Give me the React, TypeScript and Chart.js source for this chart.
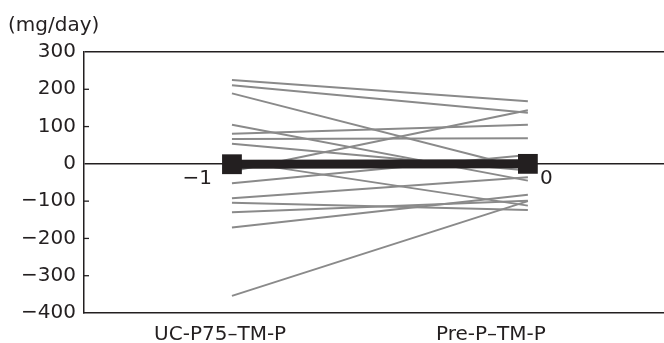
import { useEffect, useRef } from "react";
import { Chart, registerables } from "chart.js";

Chart.register(...registerables);

// ---- data ----
const categories = ["UC-P75–TM-P", "Pre-P–TM-P"];
const yTicks = [-400, -300, -200, -100, 0, 100, 200, 300];
const beforeValues = [225, 211, 189, 105, 81, 67, 54, -20, -52, 8, -92, -104, -130, -171, -354];
const afterValues = [168, 137, -14, -45, 105, 69, -18, 144, 24, -112, -36, -124, -99, -83, -100];
const meanValues = [-1, 0];
const meanLabels = ["−1", "0"];
const unitLabel = "(mg/day)";

const INK = "#231f20";
const GRAY = "#8a8a8a";
const FONT = '"DejaVu Sans", Verdana, sans-serif';
const FS = 20;

const overlay = {
  id: "overlay",
  afterDatasetsDraw(chart: any) {
    const { ctx, scales } = chart;
    const x = scales.x;
    const y = scales.y;
    ctx.save();
    ctx.strokeStyle = INK;
    ctx.lineWidth = 1.3;
    yTicks.forEach((v) => {
      if (v === 300 || v === -400 || v === 0) return;
      const py = y.getPixelForValue(v);
      ctx.beginPath();
      ctx.moveTo(chart.chartArea.left, py);
      ctx.lineTo(chart.chartArea.left + 5, py);
      ctx.stroke();
    });
    ctx.fillStyle = INK;
    ctx.font = FS + "px " + FONT;
    ctx.textBaseline = "middle";
    meanValues.forEach((v, i) => {
      const px = x.getPixelForValue(i);
      const py = y.getPixelForValue(v);
      if (i === 0) {
        ctx.textAlign = "right";
        ctx.fillText(meanLabels[i], px - 20, py + 15);
      } else {
        ctx.textAlign = "left";
        ctx.fillText(meanLabels[i], px + 12, py + 15);
      }
    });
    ctx.restore();
  },
};

export default function App() {
  const ref = useRef<HTMLCanvasElement | null>(null);

  useEffect(() => {
    if (!ref.current) return;
    const pairDatasets = beforeValues.map((b, i) => ({
      data: [
        { x: 0, y: b },
        { x: 1, y: afterValues[i] },
      ],
      borderColor: GRAY,
      borderWidth: 2,
      pointRadius: 0,
      showLine: true,
      fill: false,
    }));
    const meanDataset = {
      data: meanValues.map((v, i) => ({ x: i, y: v })),
      borderColor: INK,
      backgroundColor: INK,
      borderWidth: 9,
      pointStyle: "rect",
      pointRadius: 14,
      pointBorderWidth: 0,
      showLine: true,
      fill: false,
    };
    const chart = new Chart(ref.current, {
      type: "scatter",
      data: { datasets: [meanDataset, ...pairDatasets] as any },
      options: {
        animation: false,
        responsive: false,
        layout: { autoPadding: false, padding: { left: 8, right: 0, top: 0, bottom: 0 } },
        plugins: {
          legend: { display: false },
          tooltip: { enabled: false },
          title: {
            display: true,
            text: unitLabel,
            align: "start",
            color: INK,
            font: { family: FONT, size: FS, weight: "normal" },
            padding: { top: 14, bottom: 14 },
          },
        },
        scales: {
          x: {
            type: "linear",
            min: -0.5,
            max: 1.46,
            afterBuildTicks: (s: any) => {
              s.ticks = [{ value: -0.04 }, { value: 0.875 }];
            },
            afterFit: (s: any) => {
              s.height = 30;
              s.paddingLeft = 0;
              s.paddingRight = 0;
            },
            grid: { display: false, drawTicks: false },
            border: { display: true, color: INK, width: 1.5 },
            ticks: {
              autoSkip: false,
              maxRotation: 0,
              padding: 10,
              color: INK,
              font: { family: FONT, size: FS },
              callback: (_v: any, i: number) => categories[i],
            },
          },
          y: {
            min: -400,
            max: 300,
            afterBuildTicks: (s: any) => {
              s.ticks = yTicks.map((v) => ({ value: v }));
            },
            afterFit: (s: any) => {
              s.width = 76;
              s.paddingTop = 0;
              s.paddingBottom = 0;
            },
            grid: {
              drawTicks: false,
              lineWidth: 1.5,
              color: (c: any) =>
                c.tick && (c.tick.value === 0 || c.tick.value === 300) ? INK : "rgba(0,0,0,0)",
            },
            border: { display: true, color: INK, width: 1.5 },
            ticks: {
              padding: 8,
              color: INK,
              font: { family: FONT, size: FS },
              callback: (v: any) => (Number(v) < 0 ? "−" + Math.abs(Number(v)) : String(v)),
            },
          },
        },
      },
      plugins: [overlay],
    });
    return () => chart.destroy();
  }, []);

  return (
    <div style={{ position: "fixed", left: 0, top: 0, width: 664, height: 343, background: "#fff" }}>
      <canvas ref={ref} width={664} height={343} style={{ display: "block" }} />
    </div>
  );
}
